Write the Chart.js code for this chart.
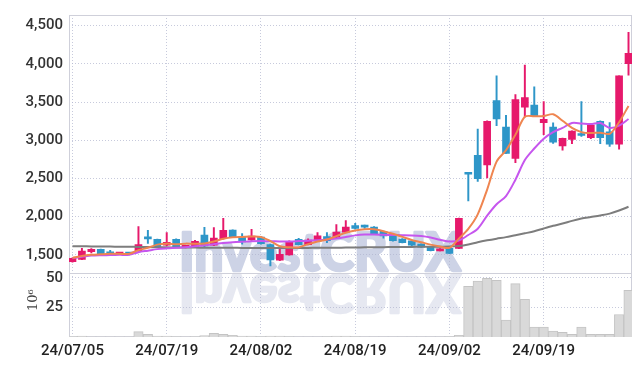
<!DOCTYPE html>
<html><head><meta charset="utf-8">
<script src="https://cdn.jsdelivr.net/npm/chart.js@4/dist/chart.umd.min.js"></script>
<style>html,body{margin:0;padding:0;background:#fff}#wrap{width:642px;height:366px;position:relative}</style>
</head><body><div id="wrap"><canvas id="c" width="642" height="366"></canvas></div>
<script>
const dates=['24/07/05','24/07/08','24/07/09','24/07/10','24/07/11','24/07/12','24/07/15','24/07/16','24/07/17','24/07/18',
'24/07/19','24/07/22','24/07/23','24/07/24','24/07/25','24/07/26','24/07/29','24/07/30','24/07/31','24/08/01',
'24/08/02','24/08/05','24/08/06','24/08/07','24/08/08','24/08/09','24/08/12','24/08/13','24/08/14','24/08/16',
'24/08/19','24/08/20','24/08/21','24/08/22','24/08/23','24/08/26','24/08/27','24/08/28','24/08/29','24/08/30',
'24/09/02','24/09/03','24/09/04','24/09/05','24/09/06','24/09/09','24/09/10','24/09/11','24/09/12','24/09/13',
'24/09/19','24/09/20','24/09/23','24/09/24','24/09/25','24/09/26','24/09/27','24/09/30','24/10/02','24/10/04'];
const openP=[1412,1441,1541,1571,1541,1510,1516,1550,1715,1704,1627,1704,1598,1605,1759,1627,1712,1824,1734,1695,
1734,1634,1429,1500,1704,1634,1682,1738,1730,1798,1883,1876,1862,1807,1763,1708,1682,1640,1605,1553,
1584,1584,2565,2802,2677,3520,3172,2763,3435,3461,3232,3172,2927,3010,3085,3035,3249,3112,2950,4002];
const closeP=[1454,1550,1571,1507,1500,1518,1510,1634,1710,1596,1665,1596,1606,1678,1618,1721,1820,1734,1669,1747,
1647,1433,1507,1678,1634,1695,1750,1686,1798,1862,1845,1862,1776,1747,1686,1661,1627,1600,1555,1579,
1520,1978,2555,2497,3249,3279,2828,3532,3560,3320,3274,2975,3027,3121,3063,3198,3035,2950,3843,4139];
const highP=[1462,1585,1582,1576,1558,1525,1525,1871,1820,1706,1790,1710,1612,1690,1861,1858,1978,1828,1777,1833,
1740,1640,1575,1685,1715,1710,1790,1790,1897,1948,1913,1890,1870,1812,1768,1712,1686,1645,1608,1582,
1590,1980,2572,3148,3255,3843,3325,3599,3985,3701,3506,3230,3030,3125,3506,3200,3255,3233,3843,4414];
const lowP=[1405,1438,1525,1500,1495,1505,1500,1545,1650,1594,1620,1594,1590,1600,1600,1620,1705,1730,1640,1690,
1640,1356,1425,1495,1630,1630,1678,1660,1725,1795,1836,1845,1770,1720,1680,1655,1620,1595,1550,1550,
1515,1580,2206,2463,2506,3192,2828,2707,3307,3310,3072,2960,2870,2955,3050,3020,2955,2918,2883,3852];
const volume=[0.3,0.7,0.2,0.2,0.2,0.2,0.2,4.5,2.3,0.8,0.8,0.3,0.2,0.3,1.1,3.1,2.3,1.4,0.8,0.8,
0.3,0.8,0.8,0.3,0.2,0.2,0.2,0.3,0.8,0.8,0.3,0.2,0.2,0.2,0.2,0.2,0.2,0.2,0.2,0.2,
0.3,1.4,42.9,47.3,49.6,47.9,14.3,45.1,31.9,8.4,8.4,5.0,3.9,2.2,8.4,2.2,2.2,2.2,19.0,39.5];
const ma5=[1460,1485,1500,1507,1513,1513,1513,1562,1592,1634,1647,1640,1647,1645,1650,1675,1710,1730,1735,1740,
1735,1680,1612,1600,1598,1640,1675,1700,1745,1790,1820,1835,1835,1810,1776,1735,1695,1665,1634,1609,
1592,1712,1840,2030,2355,2720,2870,3072,3308,3315,3318,3341,3256,3162,3107,3094,3100,3085,3236,3449];
const ma20=[1455,1475,1490,1495,1497,1500,1502,1535,1555,1575,1585,1592,1600,1612,1625,1640,1655,1665,1672,1678,
1680,1678,1676,1676,1680,1685,1690,1700,1715,1735,1755,1765,1765,1762,1760,1758,1755,1747,1728,1698,
1675,1688,1760,1841,2013,2162,2270,2484,2741,2892,3021,3107,3162,3226,3220,3213,3226,3162,3192,3278];
const ma60=[1613,1612,1611,1610,1608,1606,1605,1604,1602,1600,1598,1597,1596,1595,1594,1593,1592,1592,1591,1591,
1590,1590,1590,1590,1590,1591,1592,1593,1594,1595,1597,1598,1600,1601,1602,1603,1604,1605,1606,1607,
1608,1615,1635,1665,1690,1712,1732,1758,1782,1808,1845,1880,1910,1945,1975,1995,2015,2040,2080,2130];
const priceTicks=[1500,2000,2500,3000,3500,4000,4500];
const volumeTicks=[25,50];
const xTickIdx=[0,10,20,30,40,50];

const UP='#e6196b', DOWN='#2e96c8';
const candleColor=c=>closeP[c.dataIndex]>openP[c.dataIndex]?UP:DOWN;
const tickFont={family:"Roboto,sans-serif",size:15,weight:'500'};
const gridColor='rgba(175,180,205,0.7)';

const wmPlugin={id:'wm',beforeDraw(chart){
  const ctx=chart.ctx, a=chart.chartArea, sep=chart.scales.yp.bottom;
  ctx.save();
  ctx.font='900 53px Lato';ctx.lineJoin='round';
  const w=ctx.measureText('InvestCRUX').width, sx=282/w;
  ctx.save();ctx.translate(179,271);ctx.scale(sx,1);
  ctx.fillStyle='#cdd3e6';ctx.strokeStyle='#cdd3e6';ctx.lineWidth=2.5;
  ctx.fillText('InvestCRUX',0,0);ctx.strokeText('InvestCRUX',0,0);ctx.restore();
  ctx.beginPath();ctx.rect(a.left,sep,a.right-a.left,a.bottom-sep);ctx.clip();
  ctx.translate(179,274);ctx.scale(sx,-1);
  ctx.fillStyle='#e6e8f1';ctx.strokeStyle='#e6e8f1';ctx.lineWidth=2.5;
  ctx.fillText('InvestCRUX',0,0);ctx.strokeText('InvestCRUX',0,0);
  ctx.restore();
}};
const framePlugin={id:'frame',beforeDatasetsDraw(chart){
  const ctx=chart.ctx,a=chart.chartArea,sep=Math.round(chart.scales.yp.bottom)+0.5;
  ctx.save();ctx.strokeStyle='#cfd0da';ctx.lineWidth=1;
  ctx.strokeRect(Math.round(a.left)+0.5,Math.round(a.top)+0.5,Math.round(a.right-a.left)-1,Math.round(a.bottom-a.top)-1);
  ctx.beginPath();ctx.moveTo(a.left,sep);ctx.lineTo(a.right,sep);ctx.stroke();
  ctx.restore();
},afterDraw(chart){
  const ctx=chart.ctx,yv=chart.scales.yv;
  ctx.save();ctx.translate(37,(yv.top+yv.bottom)/2-5);ctx.rotate(-Math.PI/2);
  ctx.font="13px 'DejaVu Serif'";ctx.fillStyle='#444';ctx.textAlign='center';ctx.textBaseline='alphabetic';
  ctx.fillText('10\u2076',0,0);ctx.restore();
}};

const yCommon={position:'left',stack:'main',grid:{color:gridColor,drawTicks:false,lineWidth:1},
  border:{display:false,dash:[1,2]},afterFit(s){s.width=69;}};

new Chart(document.getElementById('c'),{
  data:{datasets:[
    {type:'line',label:'MA5',data:ma5.map((v,i)=>({x:i,y:v})),yAxisID:'yp',borderColor:'#ef8550',borderWidth:2,pointRadius:0,tension:0.3,order:0},
    {type:'line',label:'MA20',data:ma20.map((v,i)=>({x:i,y:v})),yAxisID:'yp',borderColor:'#c656ee',borderWidth:2,pointRadius:0,tension:0.3,order:0},
    {type:'line',label:'MA60',data:ma60.map((v,i)=>({x:i,y:v})),yAxisID:'yp',borderColor:'#7d7d7d',borderWidth:2,pointRadius:0,tension:0.3,order:0},
    {type:'bar',label:'body',data:openP.map((o,i)=>({x:i,y:[o,closeP[i]]})),yAxisID:'yp',backgroundColor:candleColor,barThickness:7,minBarLength:2,grouped:false,order:1},
    {type:'bar',label:'wick',data:lowP.map((l,i)=>({x:i,y:[l,highP[i]]})),yAxisID:'yp',backgroundColor:candleColor,barThickness:1.3,grouped:false,order:2},
    {type:'bar',label:'vol',data:volume.map((v,i)=>({x:i,y:v})),yAxisID:'yv',backgroundColor:'#d9d9d9',borderColor:'#c4c4c4',borderWidth:1,barPercentage:1,categoryPercentage:1,grouped:false,order:3}
  ]},
  options:{responsive:false,animation:false,events:[],
    layout:{padding:{top:9,right:10,left:0,bottom:0}},
    plugins:{legend:{display:false},tooltip:{enabled:false}},
    scales:{
      x:{type:'linear',min:-0.37,max:59.37,offset:false,
        afterBuildTicks(s){s.ticks=xTickIdx.map(v=>({value:v}));},
        afterFit(s){s.height=29;},
        ticks:{callback:v=>dates[v],font:tickFont,color:'#222',padding:5,maxRotation:0,autoSkip:false},
        grid:{color:gridColor,drawTicks:false,offset:false},border:{display:false,dash:[1,2]}},
      yv:Object.assign({},yCommon,{type:'linear',stackWeight:65,min:0,max:53.9,
        afterBuildTicks(s){s.ticks=volumeTicks.map(v=>({value:v}));},
        ticks:{font:tickFont,color:'#333',padding:6}}),
      yp:Object.assign({},yCommon,{type:'linear',stackWeight:263,min:1260,max:4640,
        afterBuildTicks(s){s.ticks=priceTicks.map(v=>({value:v}));},
        ticks:{font:tickFont,color:'#333',padding:6,callback:v=>v.toLocaleString('en-US')}})
    }
  },
  plugins:[wmPlugin,framePlugin]
});
</script></body></html>
